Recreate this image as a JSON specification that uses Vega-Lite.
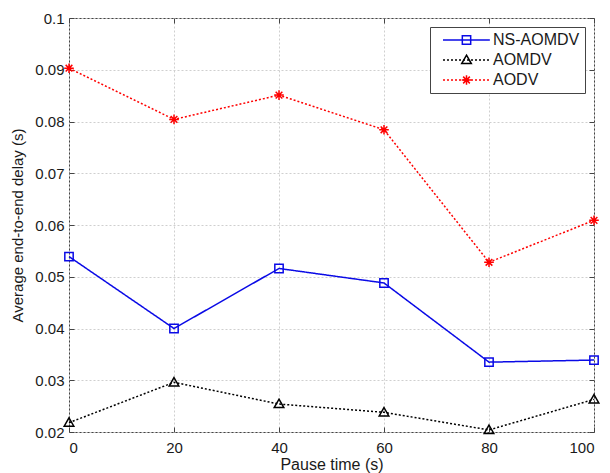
{
  "$schema": "https://vega.github.io/schema/vega-lite/v6.json",
  "width": 525,
  "height": 414,
  "autosize": {"type": "none"},
  "padding": {"left": 69, "top": 18, "right": 16, "bottom": 41},
  "background": "white",
  "config": {
    "font": "Liberation Sans",
    "view": {"stroke": "#444444", "strokeWidth": 1},
    "axis": {
      "domain": false,
      "tickColor": "#444444",
      "tickSize": -5,
      "tickWidth": 1,
      "labelFont": "Liberation Sans",
      "labelFontSize": 15,
      "labelColor": "#1a1a1a",
      "titleFont": "Liberation Sans",
      "titleFontWeight": "normal",
      "titleColor": "#1a1a1a",
      "gridColor": "#cfcfcf",
      "gridDash": [2, 2],
      "gridWidth": 1
    }
  },
  "data": {
    "values": [
      {"series": "NS-AOMDV", "pause": 0, "delay": 0.0539},
      {"series": "NS-AOMDV", "pause": 20, "delay": 0.0400},
      {"series": "NS-AOMDV", "pause": 40, "delay": 0.0516},
      {"series": "NS-AOMDV", "pause": 60, "delay": 0.0488},
      {"series": "NS-AOMDV", "pause": 80, "delay": 0.0335},
      {"series": "NS-AOMDV", "pause": 100, "delay": 0.0339},
      {"series": "AOMDV", "pause": 0, "delay": 0.0218},
      {"series": "AOMDV", "pause": 20, "delay": 0.0296},
      {"series": "AOMDV", "pause": 40, "delay": 0.0254},
      {"series": "AOMDV", "pause": 60, "delay": 0.0238},
      {"series": "AOMDV", "pause": 80, "delay": 0.0204},
      {"series": "AOMDV", "pause": 100, "delay": 0.0263},
      {"series": "AODV", "pause": 0, "delay": 0.0903},
      {"series": "AODV", "pause": 20, "delay": 0.0804},
      {"series": "AODV", "pause": 40, "delay": 0.0851},
      {"series": "AODV", "pause": 60, "delay": 0.0784},
      {"series": "AODV", "pause": 80, "delay": 0.0528},
      {"series": "AODV", "pause": 100, "delay": 0.0609}
    ]
  },
  "layer": [
    {
      "mark": {"type": "line", "strokeWidth": 1.5},
      "encoding": {
        "x": {
          "field": "pause", "type": "quantitative",
          "scale": {"domain": [0, 100], "nice": false},
          "axis": {"orient": "bottom", "values": [0, 20, 40, 60, 80, 100], "title": "Pause time (s)", "titleFontSize": 16, "labelPadding": 13, "titlePadding": 1, "grid": true}
        },
        "y": {
          "field": "delay", "type": "quantitative",
          "scale": {"domain": [0.02, 0.1], "nice": false, "zero": false},
          "axis": {"orient": "left", "values": [0.02, 0.03, 0.04, 0.05, 0.06, 0.07, 0.08, 0.09, 0.1], "format": ".2~f", "title": "Average end-to-end delay (s)", "titleFontSize": 15, "labelPadding": 10, "titlePadding": 9, "grid": true}
        },
        "color": {
          "field": "series", "type": "nominal",
          "scale": {"domain": ["NS-AOMDV", "AOMDV", "AODV"], "range": ["#0a0ae6", "#000000", "#ff0000"]},
          "legend": {"orient": "none", "legendX": 361, "legendY": 9, "title": null, "symbolType": "M0,0H11.2", "symbolSize": 70, "symbolStrokeWidth": 1.5, "labelFontSize": 16, "labelColor": "#1a1a1a", "labelOffset": 42, "padding": 5, "rowPadding": 4, "fillColor": "white", "strokeColor": "#444444"}
        },
        "strokeDash": {
          "field": "series", "type": "nominal",
          "scale": {"domain": ["NS-AOMDV", "AOMDV", "AODV"], "range": [[1, 0], [2, 2], [2, 2]]},
          "legend": {"orient": "none", "legendX": 361, "legendY": 9, "title": null, "symbolType": "M0,0H11.2", "symbolSize": 70, "symbolStrokeWidth": 1.5, "labelFontSize": 16, "labelColor": "#1a1a1a", "labelOffset": 42, "padding": 5, "rowPadding": 4, "fillColor": "white", "strokeColor": "#444444"}
        }
      }
    },
    {
      "mark": {"type": "point", "filled": false, "size": 70, "strokeWidth": 1.5, "opacity": 1},
      "encoding": {
        "x": {
          "field": "pause", "type": "quantitative",
          "axis": {"orient": "top", "values": [0, 20, 40, 60, 80, 100], "labels": false, "title": null, "grid": false}
        },
        "y": {
          "field": "delay", "type": "quantitative",
          "axis": {"orient": "right", "values": [0.02, 0.03, 0.04, 0.05, 0.06, 0.07, 0.08, 0.09, 0.1], "labels": false, "title": null, "grid": false}
        },
        "color": {
          "field": "series", "type": "nominal",
          "legend": {"orient": "none", "legendX": 384.5, "legendY": 9, "title": null, "symbolSize": 70, "symbolStrokeWidth": 1.5, "labelFontSize": 16, "labelExpr": "''", "labelOffset": 0, "padding": 5, "rowPadding": 4}
        },
        "shape": {
          "field": "series", "type": "nominal",
          "scale": {"domain": ["NS-AOMDV", "AOMDV", "AODV"], "range": ["square", "M0,-1.15L1.15,0.85H-1.15Z", "M0,-1.15V1.15M-1.15,0H1.15M-0.8,-0.8L0.8,0.8M-0.8,0.8L0.8,-0.8"]},
          "legend": {"orient": "none", "legendX": 384.5, "legendY": 9, "title": null, "symbolSize": 70, "symbolStrokeWidth": 1.5, "labelFontSize": 16, "labelExpr": "''", "labelOffset": 0, "padding": 5, "rowPadding": 4}
        }
      }
    }
  ],
  "resolve": {
    "axis": {"x": "independent", "y": "independent"},
    "legend": {"color": "independent", "strokeDash": "independent", "shape": "independent"}
  }
}
